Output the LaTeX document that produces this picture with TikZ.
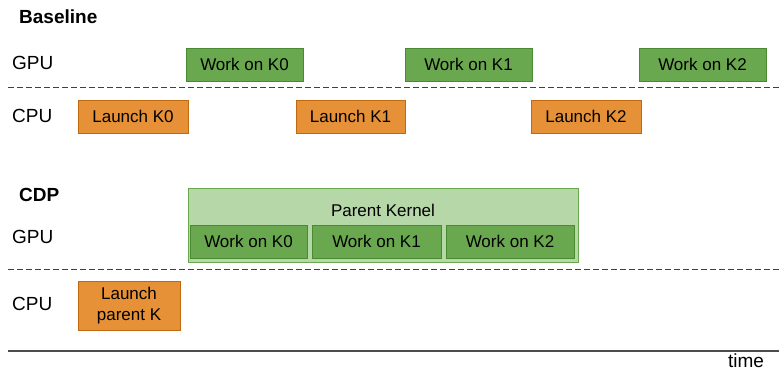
\documentclass[tikz,border=0pt]{standalone}
\usepackage{fontspec}
\setmainfont{Liberation Sans}
\usetikzlibrary{positioning}

\definecolor{workgreen}{HTML}{6AA84F}
\definecolor{workedge}{HTML}{4A8A32}
\definecolor{kernelgreen}{HTML}{B6D7A8}
\definecolor{launchorange}{HTML}{E69138}
\definecolor{launchedge}{HTML}{C0690E}

\tikzset{
    work/.style = {draw = workedge, fill = workgreen, line width = 1pt, minimum height = 33pt, inner sep = 0pt, font = \fontsize{17}{20}\selectfont},
    launch/.style = {draw = launchedge, fill = launchorange, line width = 1pt, minimum height = 33pt, inner sep = 0pt, font = \fontsize{17}{20}\selectfont, align = center},
    kernel/.style = {draw = workgreen, fill = kernelgreen, line width = 1pt, inner sep = 0pt},
    lane/.style = {anchor = west, inner sep = 0pt, font = \fontsize{19}{22}\selectfont},
    heading/.style = {anchor = west, inner sep = 0pt, font = \fontsize{19}{22}\selectfont\bfseries},
    divider/.style = {draw = black!75, dash pattern = on 6pt off 3pt, line width = 0.9pt}
}

\begin{document}
\begin{tikzpicture}[x = 1pt, y = -1pt]
    \useasboundingbox (0, 0) rectangle (779, 372);

    % baseline: launch and work alternate
    \node[heading]                          (base)  at (19, 17)         {Baseline};
    \node[lane]                             (bgpu)  at (12, 63)         {GPU};
    \node[lane]                             (bcpu)  at (12, 116)        {CPU};
    \node[work, minimum width = 117pt]      (gk0)   at (244.5, 64.5)    {Work on K0};
    \node[work, minimum width = 127pt]      (gk1)   at (468.5, 64.5)    {Work on K1};
    \node[work, minimum width = 127pt]      (gk2)   at (702.5, 64.5)    {Work on K2};
    \node[launch, minimum width = 110pt]    (lk0)   at (133, 116.5)     {Launch K0};
    \node[launch, minimum width = 109pt]    (lk1)   at (350.5, 116.5)   {Launch K1};
    \node[launch, minimum width = 110pt]    (lk2)   at (586, 116.5)     {Launch K2};

    % CDP: one parent kernel holds the work
    \node[heading]                          (cdp)   at (19, 195)        {CDP};
    \node[lane]                             (cgpu)  at (12, 237)        {GPU};
    \node[lane]                             (ccpu)  at (12, 304)        {CPU};
    \node[kernel, minimum width = 390pt, minimum height = 74pt] (parent) at (383, 225) {};
    \node[font = \fontsize{17}{20}\selectfont] (ptitle) at (383, 210)  {Parent Kernel};
    \node[work, minimum width = 117pt]      (pk0)   at (248.5, 241.5)   {Work on K0};
    \node[work, minimum width = 129pt]      (pk1)   at (376.5, 241.5)   {Work on K1};
    \node[work, minimum width = 128pt]      (pk2)   at (510, 241.5)     {Work on K2};
    \node[launch, minimum width = 102pt, minimum height = 49pt, font = \fontsize{17}{21}\selectfont] (lp) at (129, 305.5) {Launch\\parent K};

    % lane dividers and time axis
    \coordinate (d1a) at (8, 87);
    \coordinate (d1b) at (779, 87);
    \coordinate (d2a) at (8, 269);
    \coordinate (d2b) at (779, 269);
    \coordinate (ta)  at (8, 351);
    \coordinate (tb)  at (779, 351);
    \draw[divider] (d1a) -- (d1b);
    \draw[divider] (d2a) -- (d2b);
    \draw[black!70, line width = 1.3pt] (ta) -- (tb);
    \node[font = \fontsize{19}{22}\selectfont, inner sep = 0pt] (time) at (746, 361) {time};
\end{tikzpicture}
\end{document}
